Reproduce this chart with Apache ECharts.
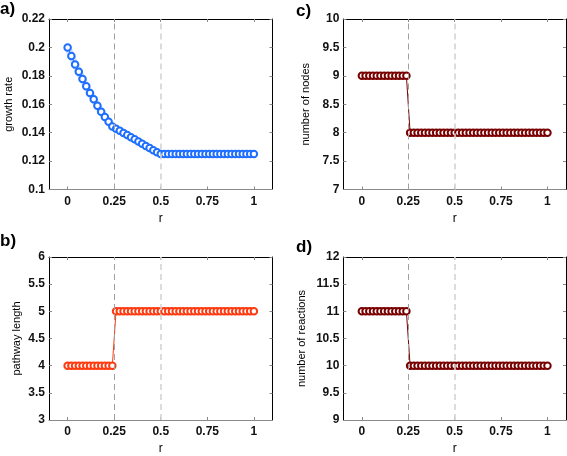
<!DOCTYPE html>
<html>
<head>
<meta charset="utf-8">
<script src="https://cdn.jsdelivr.net/npm/echarts@6/dist/echarts.min.js"></script>
<style>
html,body{margin:0;padding:0;background:#fff;}
#chart{width:567px;height:456px;}
</style>
</head>
<body>
<div id="chart"></div>
<script>
// ---- data ----
var rValues = [0,0.02,0.04,0.06,0.08,0.10,0.12,0.14,0.16,0.18,0.20,0.22,0.24,
  0.26,0.28,0.30,0.32,0.34,0.36,0.38,0.40,0.42,0.44,0.46,0.48,0.50,
  0.52,0.54,0.56,0.58,0.60,0.62,0.64,0.66,0.68,0.70,0.72,0.74,0.76,0.78,0.80,
  0.82,0.84,0.86,0.88,0.90,0.92,0.94,0.96,0.98,1.00];
var growthRate = [0.200,0.194,0.188,0.1828,0.1777,0.1727,0.168,0.1636,0.159,0.1547,0.151,0.1477,0.1444,
  0.1428,0.1413,0.1398,0.1383,0.1368,0.1353,0.1338,0.1322,0.1307,0.1292,0.1277,0.1263,0.1250,
  0.125,0.125,0.125,0.125,0.125,0.125,0.125,0.125,0.125,0.125,0.125,0.125,0.125,0.125,0.125,
  0.125,0.125,0.125,0.125,0.125,0.125,0.125,0.125,0.125,0.125];
var pathwayLength = [4,4,4,4,4,4,4,4,4,4,4,4,4,
  5,5,5,5,5,5,5,5,5,5,5,5,5,
  5,5,5,5,5,5,5,5,5,5,5,5,5,5,5,
  5,5,5,5,5,5,5,5,5,5];
var numNodes = [9,9,9,9,9,9,9,9,9,9,9,9,9,
  8,8,8,8,8,8,8,8,8,8,8,8,8,
  8,8,8,8,8,8,8,8,8,8,8,8,8,8,8,
  8,8,8,8,8,8,8,8,8,8];
var numReactions = [11,11,11,11,11,11,11,11,11,11,11,11,11,
  10,10,10,10,10,10,10,10,10,10,10,10,10,
  10,10,10,10,10,10,10,10,10,10,10,10,10,10,10,
  10,10,10,10,10,10,10,10,10,10];
var xTicks = [0,0.25,0.5,0.75,1];
var refLines = [0.25,0.5];
var panelLabels = ['a)','b)','c)','d)'];
var yNames = ['growth rate','pathway length','number of nodes','number of reactions'];
var yRanges = [[0.1,0.22,0.02],[3,6,0.5],[7,10,0.5],[9,12,0.5]];
var seriesData = [growthRate,pathwayLength,numNodes,numReactions];
var seriesColors = ['#1f6fff','#ff3a10','#7a0000','#7a0000'];

// ---- layout ----
var FONT = 'Liberation Sans, Arial, Helvetica, sans-serif';
var grids = [
  {left:49, top:19, width:223.5, height:170.5},
  {left:49, top:257, width:223.5, height:170},
  {left:343.3, top:19, width:222.7, height:170.5},
  {left:343.3, top:257, width:222.7, height:170}
];
var nameGaps = [35,27,32,36];
var labelPos = [[0,1],[0,233],[296,3],[296,239]];

var xAxes = [], yAxes = [], series = [], graphics = [];
function pairs(ys){ return rValues.map(function(r,i){ return [r, ys[i]]; }); }

for (var i=0;i<4;i++){
  xAxes.push({
    type:'value', gridIndex:i, min:-0.1, max:1.1,
    name:'r', nameLocation:'middle', nameGap:23,
    nameTextStyle:{fontFamily:FONT, fontSize:12, color:'#000'},
    axisLine:{show:true, onZero:false, lineStyle:{color:'#8a8a8a', width:1}},
    axisTick:{show:true, inside:true, length:3, customValues:xTicks, lineStyle:{color:'#888'}},
    axisLabel:{show:true, customValues:xTicks, margin:6, fontFamily:FONT, fontSize:12, fontWeight:'bold', color:'#111'},
    splitLine:{show:false}
  });
  xAxes.push({
    type:'value', gridIndex:i, min:-0.1, max:1.1, position:'top',
    axisLine:{show:true, onZero:false, lineStyle:{color:'#000', width:1}},
    axisTick:{show:true, inside:true, length:3, customValues:xTicks, lineStyle:{color:'#888'}},
    axisLabel:{show:false}, splitLine:{show:false}
  });
  var yr = yRanges[i];
  yAxes.push({
    type:'value', gridIndex:i, min:yr[0], max:yr[1], interval:yr[2],
    name:yNames[i], nameLocation:'middle', nameGap:nameGaps[i], nameRotate:90,
    nameTextStyle:{fontFamily:FONT, fontSize:11, color:'#000'},
    axisLine:{show:true, onZero:false, lineStyle:{color:'#000', width:1}},
    axisTick:{show:true, inside:true, length:3, lineStyle:{color:'#888'}},
    axisLabel:{show:true, margin:4, fontFamily:FONT, fontSize:12, fontWeight:'bold', color:'#111'},
    splitLine:{show:false}
  });
  yAxes.push({
    type:'value', gridIndex:i, min:yr[0], max:yr[1], interval:yr[2], position:'right',
    axisLine:{show:true, onZero:false, lineStyle:{color:'#000', width:1}},
    axisTick:{show:true, inside:true, length:3, lineStyle:{color:'#888'}},
    axisLabel:{show:false}, splitLine:{show:false}
  });
  // reference dashed lines
  series.push({
    type:'line', xAxisIndex:2*i, yAxisIndex:2*i, data:[], silent:true,
    markLine:{
      silent:true, symbol:['none','none'], label:{show:false},
      data:[
        {xAxis:refLines[0], lineStyle:{color:'#a0a0a0', type:[6,4], width:1}},
        {xAxis:refLines[1], lineStyle:{color:'#d4d4d4', type:[6,4], width:1.6}}
      ]
    }
  });
  if (i===0){
    series.push({
      type:'line', xAxisIndex:0, yAxisIndex:0, data:pairs(seriesData[i]),
      showSymbol:false, silent:true, z:1,
      lineStyle:{color:'rgba(110,160,255,0.3)', width:7}
    });
  }
  series.push({
    type:'line', xAxisIndex:2*i, yAxisIndex:2*i, data:pairs(seriesData[i]),
    symbol:'emptyCircle', symbolSize:6.5, showAllSymbol:true, z:3,
    lineStyle:{color:seriesColors[i], width:1},
    itemStyle:{color:seriesColors[i], borderColor:seriesColors[i], borderWidth:0.8},
    animation:false
  });
  graphics.push({
    type:'text', left:labelPos[i][0], top:labelPos[i][1],
    style:{text:panelLabels[i], font:'bold 17px '+FONT, fill:'#000'}
  });
}

var chart = echarts.init(document.getElementById('chart'), null, {renderer:'canvas'});
chart.setOption({
  animation:false,
  backgroundColor:'#fff',
  grid:grids,
  xAxis:xAxes,
  yAxis:yAxes,
  series:series,
  graphic:graphics
});
</script>
</body>
</html>
